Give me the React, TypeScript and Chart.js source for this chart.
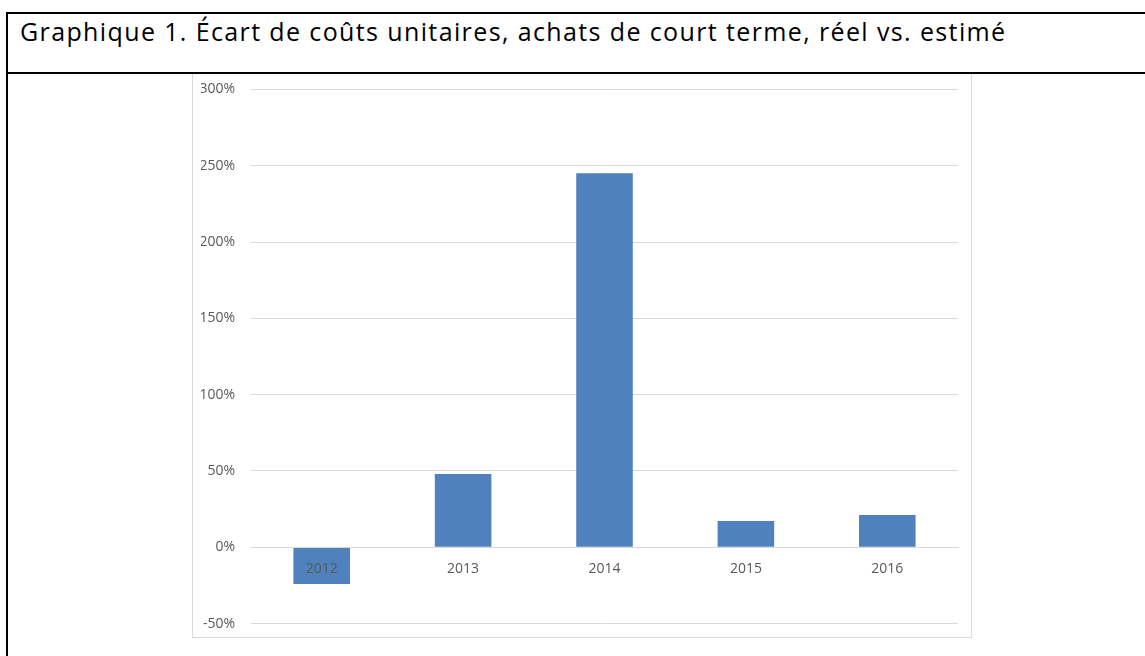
import React, { useEffect, useRef } from "react";
import { Chart, registerables } from "chart.js";

Chart.register(...registerables);

const TITLE = "Graphique 1. Écart de coûts unitaires, achats de court terme, réel vs. estimé";
const years = ["2012", "2013", "2014", "2015", "2016"];
const ecartPct = [-24, 48, 245, 17.3, 21.2];
const yTicks = [-50, 0, 50, 100, 150, 200, 250, 300];

function BarChart() {
  const ref = useRef<HTMLCanvasElement | null>(null);
  useEffect(() => {
    if (!ref.current) return;
    const chart = new Chart(ref.current, {
      type: "bar",
      data: {
        labels: years,
        datasets: [
          {
            label: "Écart",
            data: ecartPct,
            backgroundColor: "#4f81bd",
            borderWidth: 0,
            categoryPercentage: 1,
            barPercentage: 0.4,
          },
        ],
      },
      options: {
        animation: false,
        responsive: false,
        maintainAspectRatio: false,
        layout: { padding: { left: 8, right: 13, top: 0, bottom: 0 } },
        plugins: { legend: { display: false }, tooltip: { enabled: false } },
        scales: {
          x: {
            position: { y: 0 },
            grid: { display: false, drawTicks: false },
            border: { display: true, color: "#d9d9d9", width: 1, z: 1 },
            ticks: {
              z: 2,
              color: "#595959",
              font: { family: "'Open Sans'", size: 14 },
              padding: 13,
              maxRotation: 0,
            },
          },
          y: {
            min: -50,
            max: 300,
            afterBuildTicks: (s: any) => {
              s.ticks = yTicks.map((v) => ({ value: v }));
            },
            afterFit: (s: any) => {
              s.width = 50;
            },
            grid: { color: "#d9d9d9", drawTicks: false },
            border: { display: false },
            ticks: {
              color: "#595959",
              font: { family: "'Open Sans'", size: 14 },
              padding: 16,
              callback: (v: any) => `${v}%`,
            },
          },
        },
      },
    });
    return () => chart.destroy();
  }, []);
  return (
    <canvas
      ref={ref}
      width={778}
      height={583}
      style={{ display: "block", position: "absolute", left: 0, top: -9 }}
    />
  );
}

export default function App() {
  return (
    <div style={{ position: "absolute", left: 0, top: 0, width: 1145, height: 656, overflow: "hidden", background: "#fff" }}>
      <div style={{ position: "absolute", left: 6, top: 12, width: 1200, height: 700, borderLeft: "2px solid #000", borderTop: "2px solid #000" }} />
      <div
        style={{
          position: "absolute",
          left: 20,
          top: 16,
          fontFamily: "'Open Sans'",
          fontSize: 25,
          letterSpacing: 1.38,
          color: "#000",
          whiteSpace: "nowrap",
          lineHeight: "30px",
        }}
      >
        {TITLE}
      </div>
      <div
        style={{
          position: "absolute",
          left: 192,
          top: 74,
          width: 778,
          height: 563,
          border: "1px solid #d9d9d9",
          borderTop: "none",
          overflow: "hidden",
        }}
      >
        <BarChart />
      </div>
      <div style={{ position: "absolute", left: 6, top: 72, width: 1200, height: 2, background: "#000" }} />
    </div>
  );
}
